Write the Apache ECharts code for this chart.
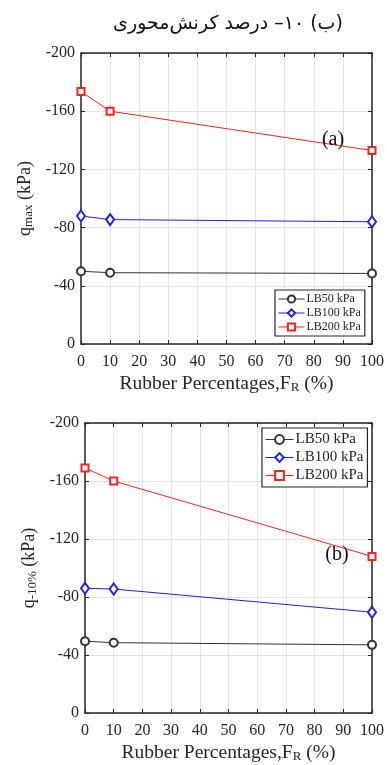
<!DOCTYPE html>
<html><head><meta charset="utf-8">
<script src="https://cdn.jsdelivr.net/npm/echarts@6/dist/echarts.min.js"></script>
<style>html,body{margin:0;padding:0;background:#fff}#c{width:387px;height:765px}</style>
</head><body><div id="c"></div>
<script>
// ---- data ----
const rubberPct = [0, 10, 100];
const seriesNames = ['LB50 kPa', 'LB100 kPa', 'LB200 kPa'];
// (a) q_max
const qmaxLB50 = [-50, -49, -48.5];
const qmaxLB100 = [-88, -85.5, -84];
const qmaxLB200 = [-173.5, -160, -133];
// (b) q_-10%
const q10LB50 = [-49.5, -48.5, -47];
const q10LB100 = [-86, -85.5, -69.5];
const q10LB200 = [-169, -160, -108];
// ticks
const xTickMin = 0, xTickMax = 100, xTickStep = 10;
const yTickMin = -200, yTickMax = 0, yTickStep = 40;
const titleText = '\u200F(ب) ۱۰– درصد کرنش‌محوری';
const panelLabels = ['(a)', '(b)'];

const AX = '#262626', GRID = '#e3e3e3';
const FONT = '"Liberation Serif", "Times New Roman", serif';
const colors = ['#333333', '#1f1fff', '#ff1f1f'];
const symbols = ['emptyCircle', 'emptyDiamond', 'emptyRect'];
const symSizes = [8, [8, 11], 7];

function pairs(ys) { return rubberPct.map((x, i) => [x, ys[i]]); }

const lineSt = { onZero: false, lineStyle: { color: AX, width: 1.5 } };
const tickSt = { inside: true, length: 4, lineStyle: { color: AX } };

function xAxes(g) {
  return [{
    type: 'value', gridIndex: g, min: xTickMin, max: xTickMax, interval: xTickStep,
    position: 'bottom',
    axisLine: lineSt, axisTick: tickSt,
    axisLabel: { color: AX, fontFamily: FONT, fontSize: 16, margin: 10 },
    splitLine: { show: true, lineStyle: { color: GRID, width: 1 } },
    name: '{m|Rubber Percentages,F}{s|R}{m| (%)}',
    nameLocation: 'middle', nameGap: 30,
    nameTextStyle: {
      rich: {
        m: { fontFamily: FONT, fontSize: 19.5, color: AX, lineHeight: 20 },
        s: { fontFamily: FONT, fontSize: 13, color: AX, lineHeight: 4, verticalAlign: 'bottom' }
      }
    }
  }, {
    type: 'value', gridIndex: g, min: xTickMin, max: xTickMax, interval: xTickStep,
    position: 'top',
    axisLine: lineSt, axisTick: tickSt,
    axisLabel: { show: false }, splitLine: { show: false }
  }];
}

function yAxes(g, sub) {
  return [{
    type: 'value', gridIndex: g, min: yTickMin, max: yTickMax, interval: yTickStep,
    inverse: true, position: 'left',
    axisLine: lineSt, axisTick: tickSt,
    axisLabel: { color: AX, fontFamily: FONT, fontSize: 16, margin: 6 },
    splitLine: { show: true, lineStyle: { color: GRID, width: 1 } },
    name: '{m|q}{s|' + sub + '}{m| (kPa)}',
    nameLocation: 'middle', nameGap: 40,
    nameTextStyle: {
      rich: {
        m: { fontFamily: FONT, fontSize: 18, color: AX, lineHeight: 20 },
        s: { fontFamily: FONT, fontSize: 13, color: AX, lineHeight: 4, verticalAlign: 'bottom' }
      }
    }
  }, {
    type: 'value', gridIndex: g, min: yTickMin, max: yTickMax, interval: yTickStep,
    inverse: true, position: 'right',
    axisLine: lineSt, axisTick: tickSt,
    axisLabel: { show: false }, splitLine: { show: false }
  }];
}

function mkSeries(g, datasets) {
  return datasets.map((d, i) => ({
    name: seriesNames[i], type: 'line', xAxisIndex: g * 2, yAxisIndex: g * 2,
    data: pairs(d), symbol: symbols[i], symbolSize: symSizes[i],
    color: colors[i], lineStyle: { color: colors[i], width: 1 },
    itemStyle: { color: colors[i], borderWidth: 1 },
    clip: false, z: 3
  }));
}

const legendCommon = {
  data: seriesNames, orient: 'vertical', backgroundColor: '#fff',
  borderColor: AX, borderWidth: 1.2, borderRadius: 0,
  itemStyle: { borderWidth: 1 }, lineStyle: { width: 1 }
};

const chart = echarts.init(document.getElementById('c'), null, { renderer: 'canvas' });
chart.setOption({
  animation: false,
  backgroundColor: '#fff',
  grid: [
    { left: 81, top: 53, width: 292, height: 291 },
    { left: 85, top: 423, width: 291, height: 290 }
  ],
  xAxis: [...xAxes(0), ...xAxes(1)],
  yAxis: [...yAxes(0, 'max'), ...yAxes(1, '-10%')],
  legend: [Object.assign({}, legendCommon, {
    left: 275, top: 290,
    padding: [3, 4, 3, 3], itemGap: 2, itemWidth: 26, itemHeight: 9,
    textStyle: { fontFamily: FONT, fontSize: 12, color: AX, padding: [0, 0, 0, -3] }
  }), Object.assign({}, legendCommon, {
    left: 262, top: 428,
    padding: [4, 4, 4, 3], itemGap: 3, itemWidth: 28, itemHeight: 11,
    textStyle: { fontFamily: FONT, fontSize: 15, color: AX, padding: [0, 0, 0, -3] }
  })],
  graphic: [
    { type: 'text', x: 228, y: 24, style: { text: titleText, font: '19px "DejaVu Sans", serif', fill: '#111', align: 'center', verticalAlign: 'middle' } },
    { type: 'text', x: 333, y: 140, style: { text: panelLabels[0], font: '20px ' + FONT, fill: '#111', align: 'center', verticalAlign: 'middle' }, z: 10 },
    { type: 'text', x: 337, y: 555, style: { text: panelLabels[1], font: '20px ' + FONT, fill: '#111', align: 'center', verticalAlign: 'middle' }, z: 10 }
  ],
  series: [
    ...mkSeries(0, [qmaxLB50, qmaxLB100, qmaxLB200]),
    ...mkSeries(1, [q10LB50, q10LB100, q10LB200])
  ]
});
</script></body></html>
